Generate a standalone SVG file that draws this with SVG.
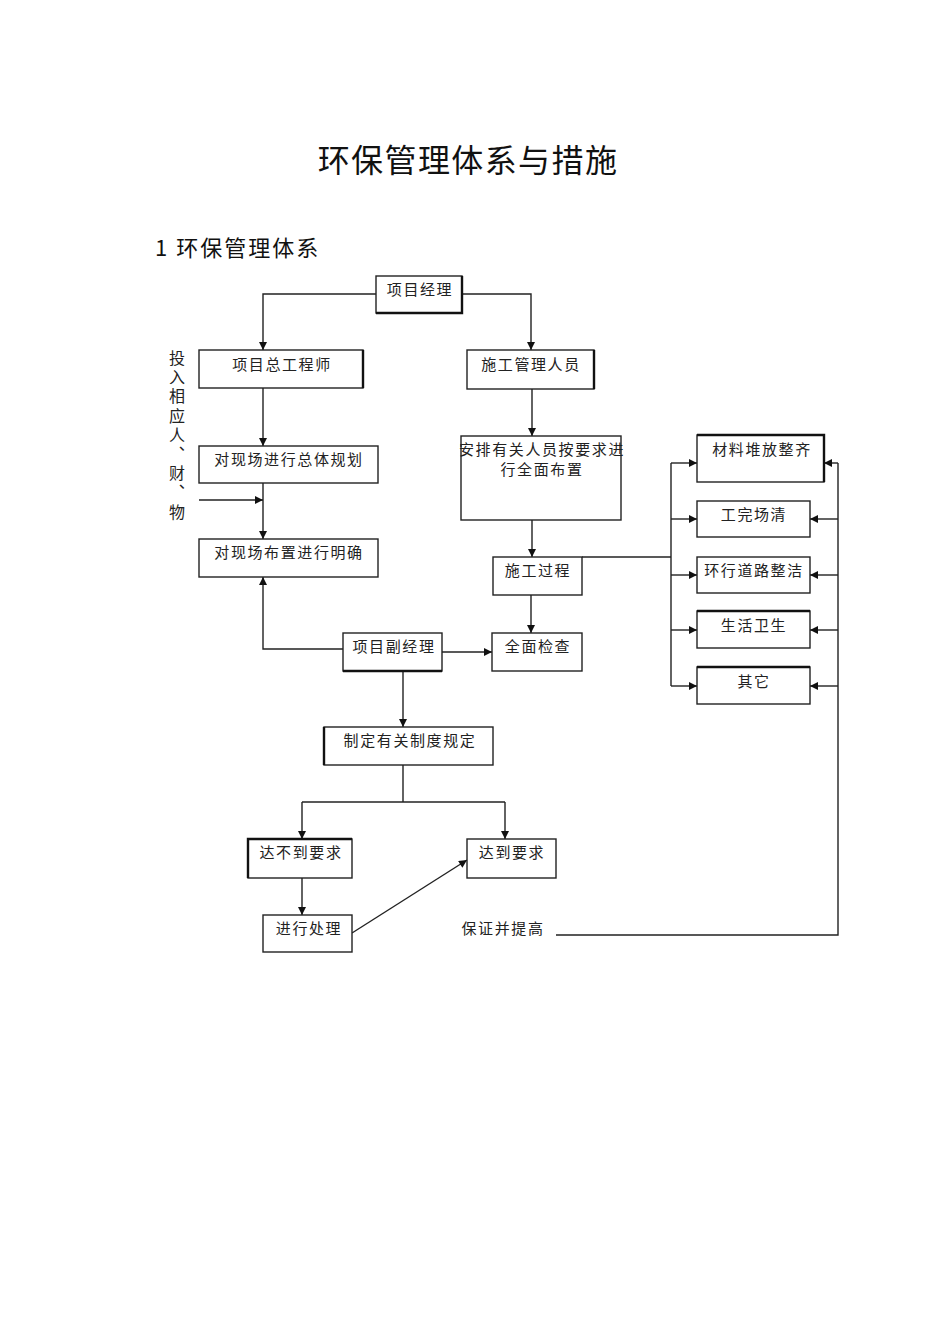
<svg xmlns="http://www.w3.org/2000/svg" width="950" height="1344" viewBox="0 0 950 1344">
<style>
.bg{fill:#fff}
.box{fill:#fff;stroke:#222;stroke-width:1.4}
.edge{stroke:#111;stroke-width:2.4;fill:none}
.lbl{font-family:"Noto Sans CJK SC","Noto Sans CJK JP",sans-serif;font-size:15px;letter-spacing:1.6px;fill:#222;text-anchor:middle}
.con{stroke:#222;stroke-width:1.4;fill:none}
.arr{marker-end:url(#ah)}
.title{font-family:"Noto Sans CJK SC",sans-serif;font-size:32px;letter-spacing:1.4px;fill:#111;text-anchor:middle}
.sub{font-family:"Noto Sans CJK SC",sans-serif;font-size:22px;letter-spacing:2px;fill:#111}
.vt{font-family:"Noto Sans CJK SC",sans-serif;font-size:16px;letter-spacing:3.2px;fill:#222;writing-mode:vertical-rl}
</style>
<defs>
<marker id="ah" viewBox="0 0 10 10" refX="10" refY="5" markerWidth="9" markerHeight="8" markerUnits="userSpaceOnUse" orient="auto">
<path d="M0,0 L10,5 L0,10 z" fill="#111"/>
</marker>
</defs>
<rect class="bg" x="0" y="0" width="950" height="1344"/>
<text class="title" x="468" y="172">环保管理体系与措施</text>
<text class="sub" x="155" y="256">1 环保管理体系</text>
<g id="side-label">
<text class="vt" x="177" y="350">投入相应人、财、物</text>
</g>
<g id="connectors">
<path class="con arr" d="M376,294 H263 V350"/>
<path class="con arr" d="M462,294 H531 V350"/>
<path class="con arr" d="M263,388 V446"/>
<path class="con arr" d="M263,483 V539"/>
<path class="con arr" d="M199,500 H263"/>
<path class="con arr" d="M532,389 V436"/>
<path class="con arr" d="M532,520 V557"/>
<path class="con" d="M582,557 H671"/>
<path class="con" d="M671,463 V686"/>
<path class="con arr" d="M671,463 H697"/>
<path class="con arr" d="M671,519 H697"/>
<path class="con arr" d="M671,575 H697"/>
<path class="con arr" d="M671,630 H697"/>
<path class="con arr" d="M671,686 H697"/>
<path class="con" d="M838,463 V935 H556"/>
<path class="con arr" d="M838,463 H824"/>
<path class="con arr" d="M838,519 H810"/>
<path class="con arr" d="M838,575 H810"/>
<path class="con arr" d="M838,630 H810"/>
<path class="con arr" d="M838,686 H810"/>
<path class="con arr" d="M343,649 H263 V577"/>
<path class="con arr" d="M442,652 H492"/>
<path class="con arr" d="M531,595 V633"/>
<path class="con arr" d="M403,671 V727"/>
<path class="con" d="M403,765 V802"/>
<path class="con" d="M302,802 H505"/>
<path class="con arr" d="M302,802 V839"/>
<path class="con arr" d="M505,802 V839"/>
<path class="con arr" d="M302,878 V915"/>
<path class="con arr" d="M352,933 L467,860"/>
</g>
<g id="n-xmjl">
<rect class="box" x="376" y="276" width="86" height="37"/>
<path class="edge" d="M462,276 V313 H376"/>
<text class="lbl" x="420" y="295">项目经理</text>
</g>
<g id="n-zgcs">
<rect class="box" x="199" y="350" width="164" height="38"/>
<path class="edge" d="M363,350 V388"/>
<text class="lbl" x="282" y="370">项目总工程师</text>
</g>
<g id="n-sggl">
<rect class="box" x="467" y="350" width="127" height="39"/>
<path class="edge" d="M594,350 V389"/>
<text class="lbl" x="531" y="370">施工管理人员</text>
</g>
<g id="n-ztgh">
<rect class="box" x="199" y="446" width="179" height="37"/>
<text class="lbl" x="289" y="465">对现场进行总体规划</text>
</g>
<g id="n-anpai">
<rect class="box" x="461" y="436" width="160" height="84"/>
<text class="lbl" x="542" y="455">安排有关人员按要求进</text>
<text class="lbl" x="542" y="475">行全面布置</text>
</g>
<g id="n-mq">
<rect class="box" x="199" y="539" width="179" height="38"/>
<text class="lbl" x="289" y="558">对现场布置进行明确</text>
</g>
<g id="n-sggc">
<rect class="box" x="493" y="557" width="89" height="38"/>
<text class="lbl" x="538" y="576">施工过程</text>
</g>
<g id="n-fjl">
<rect class="box" x="343" y="633" width="99" height="38"/>
<path class="edge" d="M343,671 H442"/>
<text class="lbl" x="394" y="652">项目副经理</text>
</g>
<g id="n-qmjc">
<rect class="box" x="492" y="633" width="90" height="38"/>
<text class="lbl" x="538" y="652">全面检查</text>
</g>
<g id="n-clduifang">
<rect class="box" x="697" y="435" width="127" height="47"/>
<path class="edge" d="M697,435 H824 V482"/>
<text class="lbl" x="762" y="455">材料堆放整齐</text>
</g>
<g id="n-gwcq">
<rect class="box" x="697" y="501" width="113" height="36"/>
<text class="lbl" x="754" y="520">工完场清</text>
</g>
<g id="n-hxdl">
<rect class="box" x="697" y="557" width="113" height="36"/>
<text class="lbl" x="754" y="576">环行道路整洁</text>
</g>
<g id="n-shws">
<rect class="box" x="697" y="611" width="113" height="37"/>
<path class="edge" d="M697,611 H810"/>
<text class="lbl" x="754" y="631">生活卫生</text>
</g>
<g id="n-qt">
<rect class="box" x="697" y="667" width="113" height="37"/>
<path class="edge" d="M697,667 H810"/>
<text class="lbl" x="754" y="687">其它</text>
</g>
<g id="n-zdgd">
<rect class="box" x="324" y="727" width="169" height="38"/>
<path class="edge" d="M324,727 V765"/>
<text class="lbl" x="410" y="746">制定有关制度规定</text>
</g>
<g id="n-dbd">
<rect class="box" x="248" y="839" width="104" height="39"/>
<path class="edge" d="M248,878 V839 H352"/>
<text class="lbl" x="301" y="858">达不到要求</text>
</g>
<g id="n-dd">
<rect class="box" x="467" y="839" width="89" height="39"/>
<text class="lbl" x="512" y="858">达到要求</text>
</g>
<g id="n-jxcl">
<rect class="box" x="263" y="915" width="89" height="37"/>
<text class="lbl" x="309" y="934">进行处理</text>
</g>
<g id="n-bzti">
<text class="lbl" x="503" y="934">保证并提高</text>
</g>
</svg>
